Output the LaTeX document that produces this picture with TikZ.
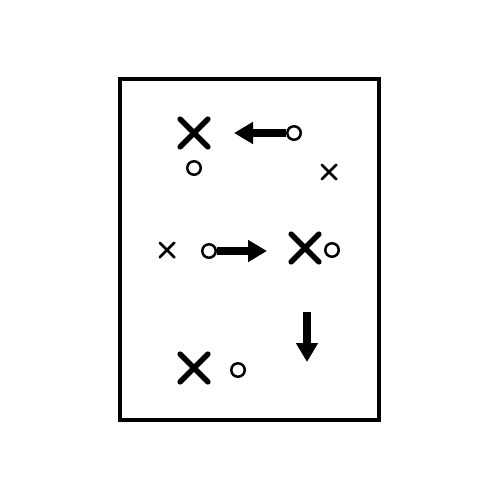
\documentclass[tikz,border=0pt]{standalone}
\usetikzlibrary{arrows.meta,shapes.misc}

\begin{document}
\begin{tikzpicture}
[x=0.02cm,y=-0.02cm,
 bigx/.style={cross out,draw=black,line width=3.2pt,line cap=round,inner sep=0pt,minimum size=0.44cm},
 smallx/.style={cross out,draw=black,line width=1.5pt,line cap=round,inner sep=0pt,minimum size=0.24cm},
 player/.style={circle,draw=black,line width=1.4pt,inner sep=0pt,minimum size=0.27cm},
 move/.style={line width=4pt,-{Triangle[length=0.38cm,width=0.42cm]}}]
\useasboundingbox (0,0) rectangle (500,500);
\draw[line width=2.3pt] (120,79) rectangle (379,420);

% top
\node[bigx] (x1) at (194,133) {};
\node[player] (o1) at (194,168) {};
\node[player] (o2) at (294,133) {};
\node[smallx] (x2) at (329,172) {};
\coordinate (t1) at (234,133);
\draw[move] (o2) -- (t1);

% middle
\node[smallx] (x3) at (167,250) {};
\node[player] (o3) at (209,251) {};
\coordinate (t2) at (267,251);
\draw[move] (o3) -- (t2);
\node[bigx] (x4) at (305,248) {};
\node[player] (o4) at (332,250) {};

% bottom
\coordinate (s3) at (307,312);
\coordinate (t3) at (307,362);
\draw[move] (s3) -- (t3);
\node[bigx] (x5) at (194,368) {};
\node[player] (o5) at (238,370) {};
\end{tikzpicture}
\end{document}
